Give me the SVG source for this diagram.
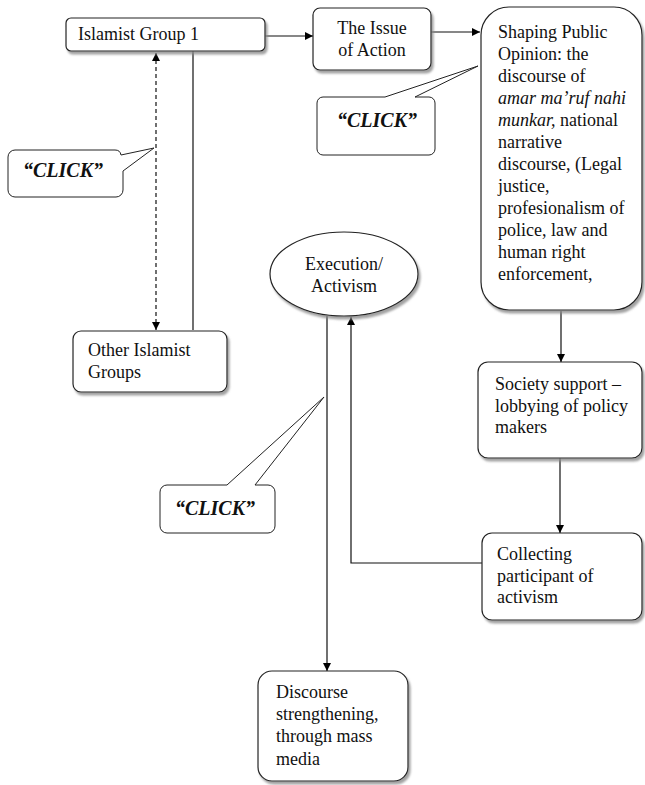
<svg xmlns="http://www.w3.org/2000/svg" width="645" height="785" viewBox="0 0 645 785">
<defs>
<filter id="sh" x="-10%" y="-10%" width="130%" height="130%">
<feDropShadow dx="2" dy="3" stdDeviation="1.2" flood-color="#8a8a8a" flood-opacity="0.8"/>
</filter>
<marker id="ah" viewBox="0 0 10 10" refX="10" refY="5" markerWidth="8" markerHeight="8" markerUnits="userSpaceOnUse" orient="auto-start-reverse">
<path d="M0,0 L10,5 L0,10 Z" fill="#000"/>
</marker>
</defs>
<style>
.box{fill:#fff;stroke:#222;stroke-width:1.2;filter:url(#sh)}
.call{fill:#fff;stroke:#222;stroke-width:1}
.t{font-size:18px;fill:#111}
.c{font-size:20px;font-weight:bold;font-style:italic;fill:#111;text-anchor:middle}
.mid{text-anchor:middle}
.ln{fill:none;stroke:#111;stroke-width:1.2}
.arr{marker-end:url(#ah)}
</style>
<rect width="645" height="785" fill="#fff"/>
<g id="connectors">
<line class="ln arr" x1="265" y1="36" x2="313" y2="36"/>
<line class="ln arr" x1="431" y1="32" x2="480" y2="32"/>
<line class="ln" x1="156" y1="53" x2="156" y2="330" stroke-dasharray="4,3" marker-start="url(#ah)" marker-end="url(#ah)"/>
<line class="ln" x1="193" y1="51" x2="193" y2="330"/>
<line class="ln arr" x1="561" y1="311" x2="561" y2="362"/>
<line class="ln arr" x1="560" y1="458" x2="560" y2="533"/>
<polyline class="ln arr" points="482,563 351,563 351,317"/>
<line class="ln arr" x1="327" y1="316" x2="327" y2="671"/>
</g>
<g font-family="'Liberation Serif', 'Times New Roman', 'DejaVu Serif', serif">
<g id="islamist-group-1">
<rect class="box" x="66" y="18" width="199" height="33" rx="5"/>
<text class="t" x="78" y="40">Islamist Group 1</text>
</g>
<g id="issue-of-action">
<rect class="box" x="313" y="8" width="118" height="62" rx="7"/>
<text class="t mid" x="372" y="34">The Issue</text>
<text class="t mid" x="372" y="56">of Action</text>
</g>
<g id="shaping-public-opinion">
<rect class="box" x="481" y="7" width="161" height="303" rx="28"/>
<text class="t" x="498" y="38">Shaping Public</text>
<text class="t" x="498" y="60">Opinion: the</text>
<text class="t" x="498" y="82">discourse of</text>
<text class="t" x="498" y="104"><tspan font-style="italic">amar ma’ruf nahi</tspan></text>
<text class="t" x="498" y="126"><tspan font-style="italic">munkar,</tspan> national</text>
<text class="t" x="498" y="148">narrative</text>
<text class="t" x="498" y="170">discourse, (Legal</text>
<text class="t" x="498" y="192">justice,</text>
<text class="t" x="498" y="214">profesionalism of</text>
<text class="t" x="498" y="236">police, law and</text>
<text class="t" x="498" y="258">human right</text>
<text class="t" x="498" y="280">enforcement,</text>
</g>
<g id="click-top">
<path class="call" d="M323,97 L385,97 L478,66 L415,97 L429,97 A6,6 0 0 1 435,103 L435,149 A6,6 0 0 1 429,155 L323,155 A6,6 0 0 1 317,149 L317,103 A6,6 0 0 1 323,97 Z"/>
<text class="c" x="377" y="127">“CLICK”</text>
</g>
<g id="click-left">
<path class="call" d="M15,150 L115,150 A6,6 0 0 1 121,155 L154,148 L123,171 L123,190 A7,7 0 0 1 116,197 L15,197 A7,7 0 0 1 8,190 L8,157 A7,7 0 0 1 15,150 Z"/>
<text class="c" x="63" y="177">“CLICK”</text>
</g>
<g id="other-islamist-groups">
<rect class="box" x="73" y="331" width="154" height="61" rx="8"/>
<text class="t" x="88" y="356">Other Islamist</text>
<text class="t" x="88" y="378">Groups</text>
</g>
<g id="execution-activism">
<ellipse class="box" cx="344" cy="274" rx="74" ry="42"/>
<text class="t mid" x="344" y="270">Execution/</text>
<text class="t mid" x="344" y="292">Activism</text>
</g>
<g id="click-bottom">
<path class="call" d="M167,485 L227,485 L324,397 L255,485 L268,485 A7,7 0 0 1 275,492 L275,526 A7,7 0 0 1 268,533 L167,533 A7,7 0 0 1 160,526 L160,492 A7,7 0 0 1 167,485 Z"/>
<text class="c" x="215" y="515">“CLICK”</text>
</g>
<g id="society-support">
<rect class="box" x="478" y="362" width="164" height="96" rx="10"/>
<text class="t" x="495" y="390">Society support –</text>
<text class="t" x="495" y="412">lobbying of policy</text>
<text class="t" x="495" y="433">makers</text>
</g>
<g id="collecting-participant">
<rect class="box" x="482" y="533" width="160" height="87" rx="10"/>
<text class="t" x="497" y="560">Collecting</text>
<text class="t" x="497" y="582">participant of</text>
<text class="t" x="497" y="603">activism</text>
</g>
<g id="discourse-strengthening">
<rect class="box" x="258" y="671" width="150" height="110" rx="14"/>
<text class="t" x="276" y="698">Discourse</text>
<text class="t" x="276" y="720">strengthening,</text>
<text class="t" x="276" y="742">through mass</text>
<text class="t" x="276" y="765">media</text>
</g>
</g>
</svg>
